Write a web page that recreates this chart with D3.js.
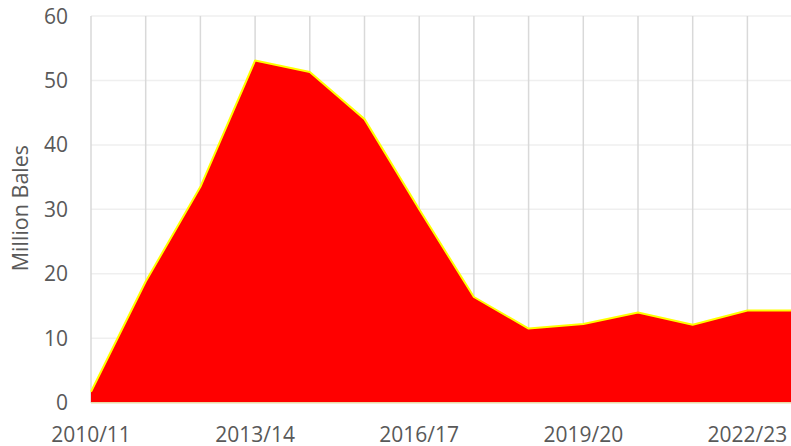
<!doctype html>
<html>
	<head>
		<meta charset="UTF-8">
		<title>Million Bales</title>
		<script src="https://d3js.org/d3.v7.min.js"></script>
		<style>
			body { margin: 0; background: #ffffff; }
		</style>
	</head>
	<body>
		<script>

// -------------------------------------- data

		var seasons = ["2010/11", "2011/12", "2012/13", "2013/14", "2014/15", "2015/16", "2016/17",
			"2017/18", "2018/19", "2019/20", "2020/21", "2021/22", "2022/23", "2023/24"];
		var bales = [1.7, 18.8, 33.5, 53.1, 51.3, 44.0, 30.0, 16.4, 11.5, 12.2, 14.0, 12.1, 14.3, 14.3];
		var yTicks = [0, 10, 20, 30, 40, 50, 60];
		var xLabels = ["2010/11", "2013/14", "2016/17", "2019/20", "2022/23"];

// -------------------------------------- colors

		var fill_col = "#ff0000";
		var line_col = "#ffff00";
		var vgrid_col = "#d9d9d9";
		var hgrid_col = "#efefef";
		var text_col = "#595959";

// -------------------------------------- svg

		var width = 791, height = 446;

		var svg = d3.select("body").append("svg")
			.attr("width", width)
			.attr("height", height)
			.style("display", "block")
			.style("font-family", "'Open Sans', sans-serif");

		// scales
		var x = d3.scalePoint()
			.domain(seasons)
			.range([91, 91 + 13 * 54.7]);

		var y = d3.scaleLinear()
			.domain([0, 60])
			.range([402.7, 16]);

// -------------------------------------- grid

		svg.selectAll("line.hgrid")
			.data(yTicks.filter(d => d > 0))
			.enter().append("line")
			.attr("class", "hgrid")
			.attr("x1", x(seasons[0]))
			.attr("x2", width)
			.attr("y1", d => y(d))
			.attr("y2", d => y(d))
			.style("stroke", hgrid_col)
			.style("stroke-width", 1.5);

		svg.selectAll("line.vgrid")
			.data(seasons)
			.enter().append("line")
			.attr("class", "vgrid")
			.attr("x1", d => x(d))
			.attr("x2", d => x(d))
			.attr("y1", y(60))
			.attr("y2", y(0))
			.style("stroke", vgrid_col)
			.style("stroke-width", 1.5);

// -------------------------------------- area

		var area = d3.area()
			.x((d, i) => x(seasons[i]))
			.y0(y(0))
			.y1(d => y(d));

		var line = d3.line()
			.x((d, i) => x(seasons[i]))
			.y(d => y(d));

		svg.append("path")
			.datum(bales)
			.attr("d", area)
			.style("fill", fill_col);

		svg.append("path")
			.datum(bales)
			.attr("d", line)
			.style("fill", "none")
			.style("stroke", line_col)
			.style("stroke-width", 2)
			.style("stroke-linejoin", "round");

		// base line
		svg.append("line")
			.attr("x1", x(seasons[0]))
			.attr("x2", width)
			.attr("y1", y(0))
			.attr("y2", y(0))
			.style("stroke", "#e8d9a8")
			.style("stroke-width", 1.5);

// -------------------------------------- axes text

		svg.selectAll("text.ytick")
			.data(yTicks)
			.enter().append("text")
			.attr("class", "ytick")
			.attr("x", 68)
			.attr("y", d => y(d))
			.attr("dy", "0.36em")
			.attr("text-anchor", "end")
			.style("fill", text_col)
			.style("font-size", "21px")
			.text(d => d);

		svg.selectAll("text.xtick")
			.data(xLabels)
			.enter().append("text")
			.attr("class", "xtick")
			.attr("x", d => x(d))
			.attr("y", 441.5)
			.attr("text-anchor", "middle")
			.style("fill", text_col)
			.style("font-size", "21px")
			.text(d => d);

		svg.append("text")
			.attr("transform", "translate(27.5," + y(30.2) + ") rotate(-90)")
			.attr("text-anchor", "middle")
			.style("fill", text_col)
			.style("font-size", "21.5px")
			.text("Million Bales");

		</script>
	</body>
</html>
